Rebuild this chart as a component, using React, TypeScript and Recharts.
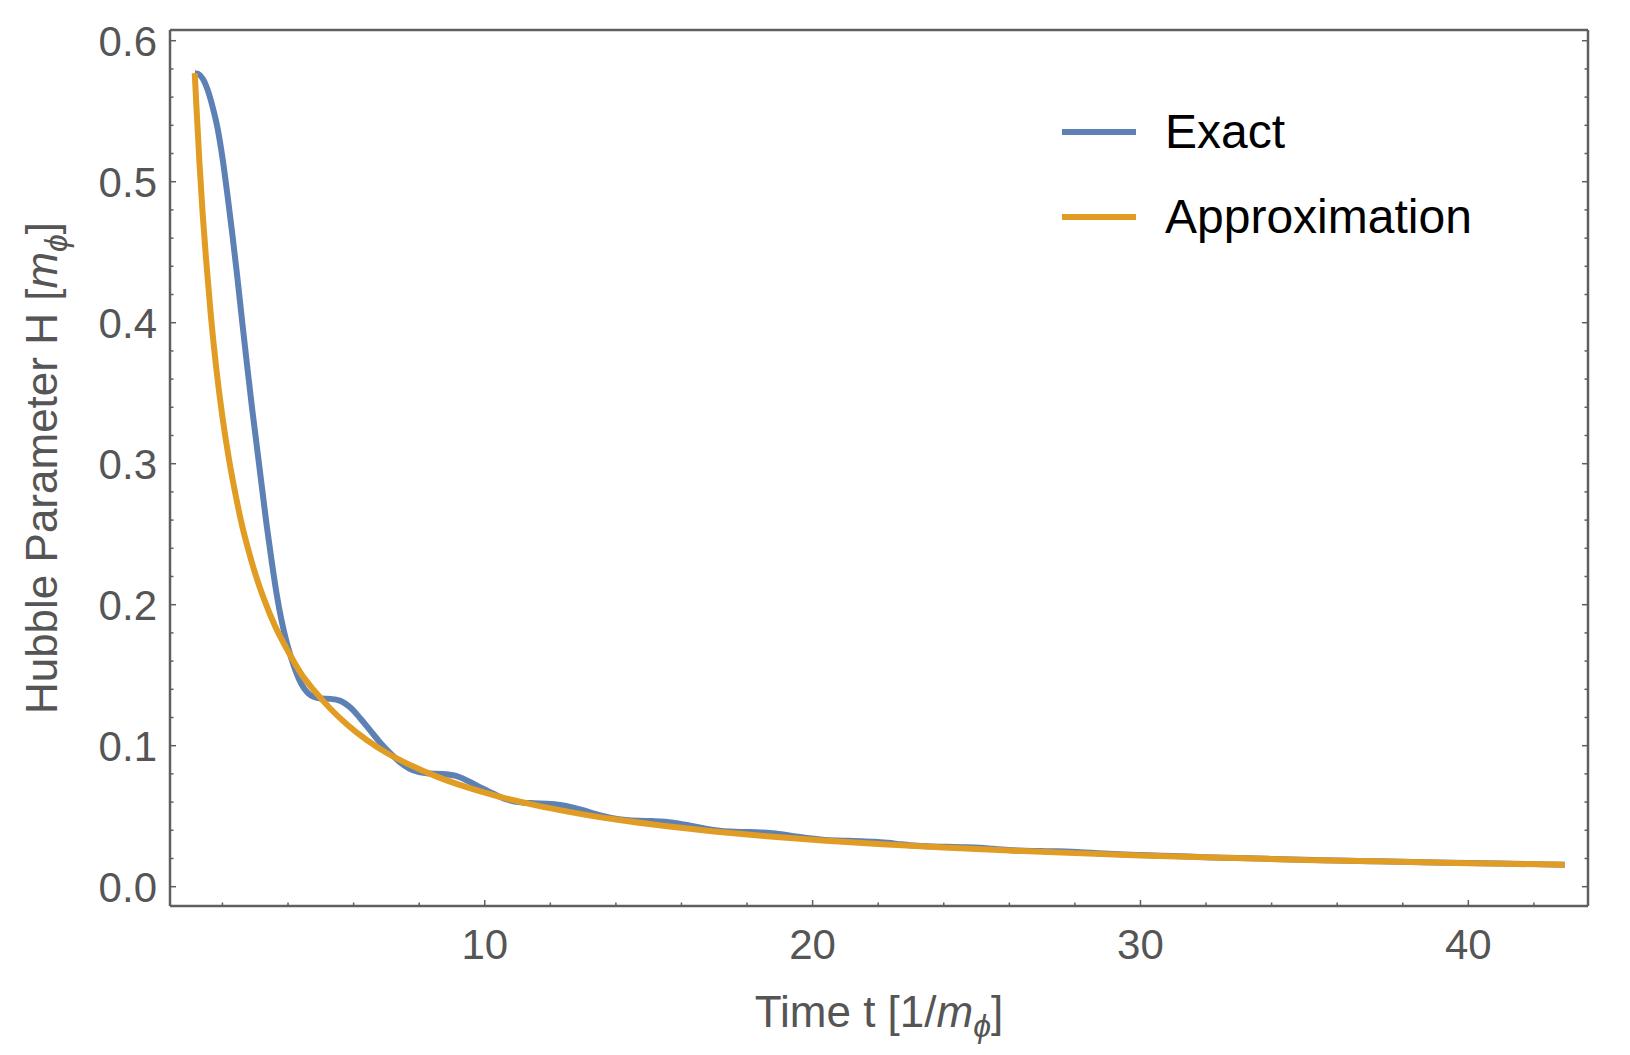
import { LineChart, Line, XAxis, YAxis, Legend } from 'recharts';

const BLUE = '#5e81b5';
const ORANGE = '#e19c24';
const FRAME = '#5f5f5f';
const TEXT = '#555555';
const FONT = '"Liberation Sans", Arial, sans-serif';

// exact solution
const T_EXACT = [
  1.155, 1.25, 1.4, 1.55, 1.7, 1.85, 2.0, 2.15, 2.3, 2.45, 2.6, 2.75, 2.9, 3.05, 3.2, 3.35, 3.5, 3.65, 3.8, 3.95,
  4.1, 4.25, 4.4, 4.6, 4.8, 5.0, 5.3, 5.6, 5.9, 6.2, 6.5, 6.8, 7.1, 7.4, 7.7, 8.0, 8.3, 8.7, 9.1, 9.5, 9.9, 10.3,
  10.7, 11.1, 11.5, 11.9, 12.3, 12.7, 13.1, 13.5, 13.9, 14.3, 14.7, 15.1, 15.5, 15.9, 16.3, 16.7, 17.1, 17.5,
  17.9, 18.3, 18.7, 19.1, 19.5, 19.9, 20.3, 20.7, 21.1, 21.5, 21.9, 22.3, 22.7, 23.1, 23.5, 23.9, 24.3, 24.7,
  25.1, 25.5, 25.9, 26.3, 26.7, 27.1, 27.5, 27.9, 28.3, 28.7, 29.2, 30, 31, 32, 33, 34, 35, 36, 37, 38, 39, 40,
  41, 42, 42.94,
];
const H_EXACT = [
  0.577, 0.5765, 0.573, 0.565, 0.553, 0.538, 0.517, 0.491, 0.463, 0.433, 0.401, 0.37, 0.34, 0.312, 0.284, 0.256,
  0.231, 0.208, 0.189, 0.174, 0.162, 0.152, 0.144, 0.1375, 0.1345, 0.1335, 0.1332, 0.1318, 0.127, 0.1195, 0.111,
  0.1025, 0.095, 0.0885, 0.0838, 0.0812, 0.0803, 0.08, 0.0787, 0.0748, 0.07, 0.0655, 0.0617, 0.0598, 0.0592,
  0.0589, 0.058, 0.0561, 0.0535, 0.0508, 0.0486, 0.0473, 0.0467, 0.0465, 0.0461, 0.0449, 0.0431, 0.0413, 0.0399,
  0.0391, 0.0388, 0.0386, 0.0381, 0.037, 0.0356, 0.0343, 0.0333, 0.0327, 0.0325, 0.0323, 0.0319, 0.0311, 0.0301,
  0.0292, 0.0286, 0.0283, 0.0282, 0.028, 0.0276, 0.0269, 0.0262, 0.0256, 0.0253, 0.0252, 0.0251, 0.0248, 0.0243,
  0.0237, 0.0231, 0.0224, 0.0217, 0.0209, 0.0203, 0.0197, 0.0191, 0.0186, 0.0181, 0.0176, 0.0172, 0.0168, 0.0164,
  0.016, 0.0156,
];

// approximation
const T_APPROX = [
  1.155, 1.2, 1.3, 1.4, 1.5, 1.65, 1.8, 2.0, 2.2, 2.4, 2.6, 2.8, 3.0, 3.3, 3.6, 4.0, 4.4, 4.8, 5.3, 5.8, 6.4, 7.0,
  7.7, 8.5, 9.4, 10.4, 11.5, 12.7, 14, 15.5, 17, 18.6, 20.3, 22, 24, 26, 28, 30, 32.5, 35, 37.5, 40, 42.94,
];
const H_APPROX = [
  0.577, 0.556, 0.513, 0.476, 0.445, 0.404, 0.37, 0.333, 0.303, 0.278, 0.256, 0.238, 0.222, 0.202, 0.185, 0.167,
  0.151, 0.139, 0.126, 0.115, 0.104, 0.095, 0.0866, 0.0784, 0.0709, 0.0641, 0.058, 0.0525, 0.0476, 0.043, 0.0392,
  0.0358, 0.0328, 0.0303, 0.0278, 0.0256, 0.0238, 0.0222, 0.0205, 0.019, 0.0178, 0.0167, 0.0155,
];

const X_MAJOR = [10, 20, 30, 40];
const X_TICKS = [2, 4, 6, 8, 10, 12, 14, 16, 18, 20, 22, 24, 26, 28, 30, 32, 34, 36, 38, 40, 42];
const Y_MAJOR = [0, 0.1, 0.2, 0.3, 0.4, 0.5, 0.6];
const Y_TICKS = [
  0, 0.02, 0.04, 0.06, 0.08, 0.1, 0.12, 0.14, 0.16, 0.18, 0.2, 0.22, 0.24, 0.26, 0.28, 0.3, 0.32, 0.34, 0.36,
  0.38, 0.4, 0.42, 0.44, 0.46, 0.48, 0.5, 0.52, 0.54, 0.56, 0.58, 0.6,
];

const X_DOMAIN = [0.4, 43.65];
const Y_DOMAIN = [-0.0137, 0.6076];

const exactData = T_EXACT.map((t, i) => ({ t, h: H_EXACT[i] }));
const approxData = T_APPROX.map((t, i) => ({ t, h: H_APPROX[i] }));

const SERIES = [
  { name: 'Exact', color: BLUE },
  { name: 'Approximation', color: ORANGE },
];

interface TickProps {
  x?: number;
  y?: number;
  payload?: { value: number };
}

function BottomTick({ x = 0, y = 0, payload }: TickProps) {
  const major = X_MAJOR.includes(payload!.value);
  return (
    <g>
      <line x1={x} y1={y} x2={x} y2={y - (major ? 6 : 3.5)} stroke={FRAME} strokeWidth={1.5} />
      {major && (
        <text x={x} y={y + 53} textAnchor="middle" fill={TEXT} fontSize={42} fontFamily={FONT}>
          {payload!.value}
        </text>
      )}
    </g>
  );
}

function TopTick({ x = 0, y = 0, payload }: TickProps) {
  const major = X_MAJOR.includes(payload!.value);
  return <line x1={x} y1={y} x2={x} y2={y + (major ? 6 : 3.5)} stroke={FRAME} strokeWidth={1.5} />;
}

function LeftTick({ x = 0, y = 0, payload }: TickProps) {
  const major = Y_MAJOR.includes(payload!.value);
  return (
    <g>
      <line x1={x} y1={y} x2={x + (major ? 6 : 3.5)} y2={y} stroke={FRAME} strokeWidth={1.5} />
      {major && (
        <text x={x - 13} y={y + 15} textAnchor="end" fill={TEXT} fontSize={42} fontFamily={FONT}>
          {payload!.value.toFixed(1)}
        </text>
      )}
    </g>
  );
}

function RightTick({ x = 0, y = 0, payload }: TickProps) {
  const major = Y_MAJOR.includes(payload!.value);
  return <line x1={x} y1={y} x2={x - (major ? 6 : 3.5)} y2={y} stroke={FRAME} strokeWidth={1.5} />;
}

function XTitle({ viewBox }: any) {
  const cx = viewBox.x + viewBox.width / 2;
  return (
    <text x={cx} y={viewBox.y + 121} textAnchor="middle" fill={TEXT} fontSize={44} fontFamily={FONT}>
      Time t [1/<tspan fontStyle="italic">m</tspan>
      <tspan fontStyle="italic" fontSize={32} dy={10}>ϕ</tspan>
      <tspan dy={-10}>]</tspan>
    </text>
  );
}

function YTitle({ viewBox }: any) {
  const cy = viewBox.y + viewBox.height / 2;
  const bx = 57;
  return (
    <text
      x={bx}
      y={cy}
      transform={`rotate(-90 ${bx} ${cy})`}
      textAnchor="middle"
      fill={TEXT}
      fontSize={44}
      fontFamily={FONT}
    >
      Hubble Parameter H [<tspan fontStyle="italic">m</tspan>
      <tspan fontStyle="italic" fontSize={32} dy={10}>ϕ</tspan>
      <tspan dy={-10}>]</tspan>
    </text>
  );
}

function LegendBox() {
  return (
    <svg width={520} height={150} style={{ overflow: 'visible' }}>
      {SERIES.map((s, i) => (
        <g key={s.name}>
          <line x1={12} x2={86} y1={42 + i * 85} y2={42 + i * 85} stroke={s.color} strokeWidth={6} />
          <text x={115} y={58 + i * 85} fontSize={48} fill="#000" fontFamily={FONT}>
            {s.name}
          </text>
        </g>
      ))}
    </svg>
  );
}

export default function App() {
  return (
    <div style={{ position: 'absolute', left: 0, top: 0, width: 1630, height: 1055, background: '#fff', fontFamily: FONT }}>
      <LineChart width={1630} height={1055} margin={{ top: 29, right: 41, bottom: 0, left: 0 }}>
        <XAxis
          dataKey="t"
          type="number"
          domain={X_DOMAIN}
          ticks={X_TICKS}
          interval={0}
          allowDataOverflow
          height={149}
          tickSize={0}
          tickMargin={0}
          tickLine={false}
          axisLine={{ stroke: FRAME, strokeWidth: 2.5 }}
          tick={<BottomTick />}
          label={<XTitle />}
        />
        <XAxis
          xAxisId="top"
          orientation="top"
          type="number"
          domain={X_DOMAIN}
          ticks={X_TICKS}
          interval={0}
          allowDataOverflow
          height={1}
          tickSize={0}
          tickMargin={0}
          tickLine={false}
          axisLine={{ stroke: FRAME, strokeWidth: 2.5 }}
          tick={<TopTick />}
        />
        <YAxis
          type="number"
          domain={Y_DOMAIN}
          ticks={Y_TICKS}
          interval={0}
          allowDataOverflow
          width={170}
          tickSize={0}
          tickMargin={0}
          tickLine={false}
          axisLine={{ stroke: FRAME, strokeWidth: 2.5 }}
          tick={<LeftTick />}
          label={<YTitle />}
        />
        <YAxis
          yAxisId="right"
          orientation="right"
          type="number"
          domain={Y_DOMAIN}
          ticks={Y_TICKS}
          interval={0}
          allowDataOverflow
          width={1}
          tickSize={0}
          tickMargin={0}
          tickLine={false}
          axisLine={{ stroke: FRAME, strokeWidth: 2.5 }}
          tick={<RightTick />}
        />
        <Legend
          layout="vertical"
          align="center"
          verticalAlign="middle"
          wrapperStyle={{ left: 1050, top: 90, width: 520, height: 150 }}
          content={<LegendBox />}
        />
        <Line
          data={exactData}
          dataKey="h"
          name="Exact"
          type="monotone"
          stroke={BLUE}
          strokeWidth={6}
          dot={false}
          activeDot={false}
          isAnimationActive={false}
        />
        <Line
          data={approxData}
          dataKey="h"
          name="Approximation"
          type="monotone"
          stroke={ORANGE}
          strokeWidth={6}
          dot={false}
          activeDot={false}
          isAnimationActive={false}
        />
      </LineChart>
    </div>
  );
}
